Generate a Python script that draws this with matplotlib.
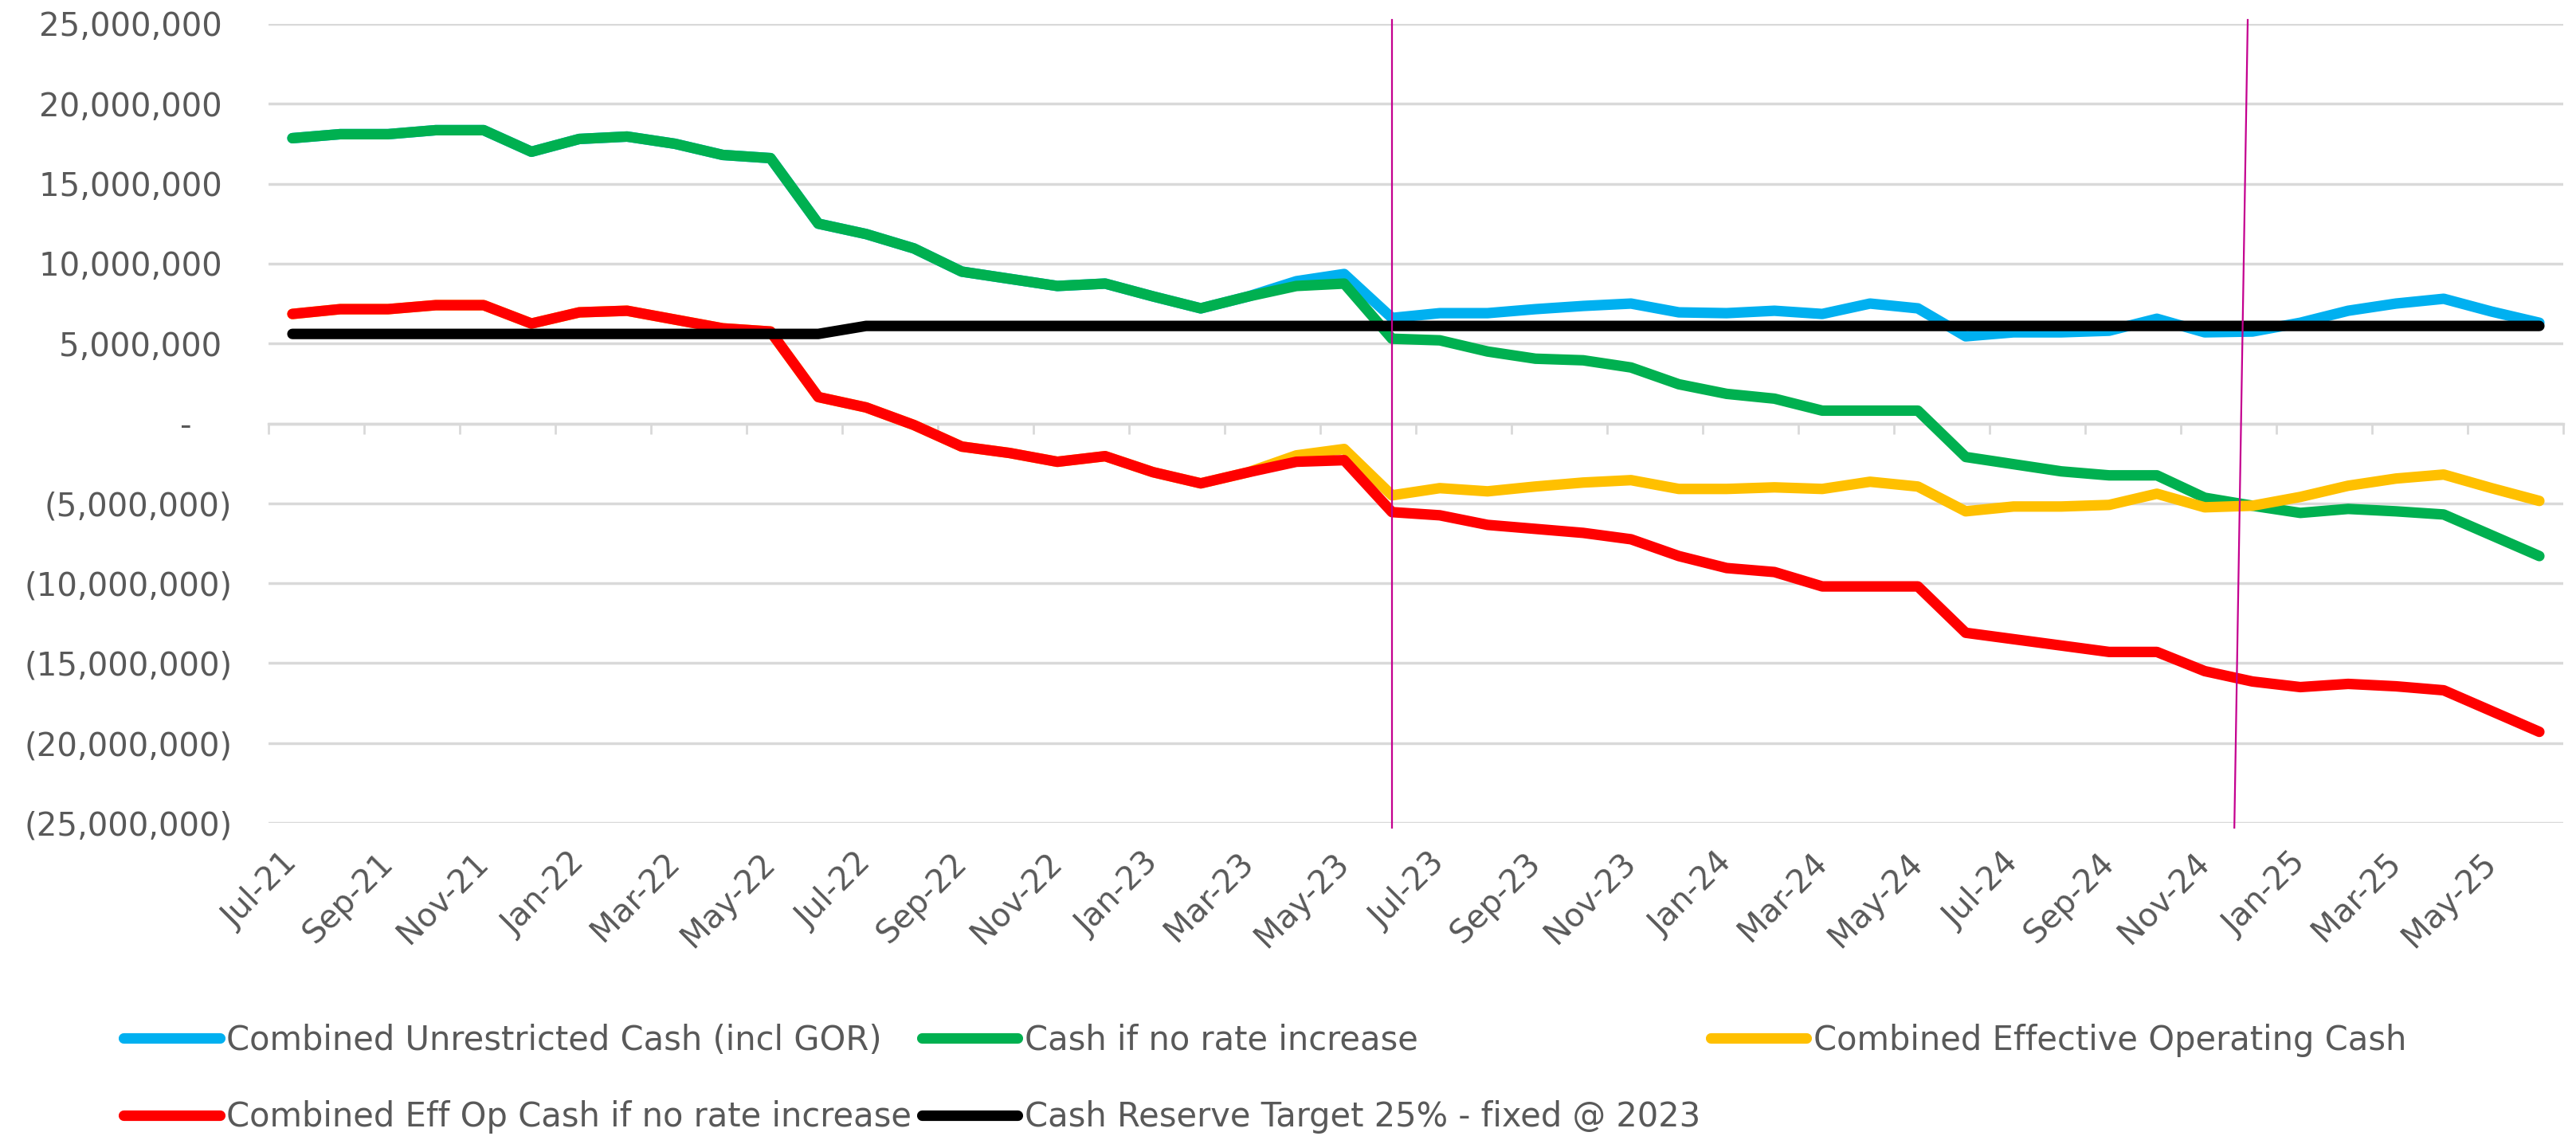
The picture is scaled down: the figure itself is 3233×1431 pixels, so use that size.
import numpy as np
import matplotlib
matplotlib.use("Agg")
import matplotlib.pyplot as plt
from matplotlib.ticker import FuncFormatter, FixedLocator

plt.rcParams['font.family'] = ['DejaVu Sans']

months = ["Jul-21", "Aug-21", "Sep-21", "Oct-21", "Nov-21", "Dec-21",
          "Jan-22", "Feb-22", "Mar-22", "Apr-22", "May-22", "Jun-22",
          "Jul-22", "Aug-22", "Sep-22", "Oct-22", "Nov-22", "Dec-22",
          "Jan-23", "Feb-23", "Mar-23", "Apr-23", "May-23", "Jun-23",
          "Jul-23", "Aug-23", "Sep-23", "Oct-23", "Nov-23", "Dec-23",
          "Jan-24", "Feb-24", "Mar-24", "Apr-24", "May-24", "Jun-24",
          "Jul-24", "Aug-24", "Sep-24", "Oct-24", "Nov-24", "Dec-24",
          "Jan-25", "Feb-25", "Mar-25", "Apr-25", "May-25", "Jun-25"]

# values in millions
unrestricted_cash = [17.85, 18.1, 18.1, 18.35, 18.35, 17.0, 17.8, 17.95, 17.5, 16.8, 16.6, 12.5,
                     11.85, 10.95, 9.5, 9.05, 8.6, 8.75, 7.95, 7.2, 7.95, 8.9, 9.35, 6.6,
                     6.9, 6.9, 7.15, 7.35, 7.5, 6.95, 6.9, 7.05, 6.85, 7.5, 7.2, 5.45,
                     5.7, 5.7, 5.8, 6.55, 5.7, 5.75, 6.3, 7.05, 7.5, 7.8, 7.0, 6.3]
cash_no_increase = [17.85, 18.1, 18.1, 18.35, 18.35, 17.0, 17.8, 17.95, 17.5, 16.8, 16.6, 12.5,
                    11.85, 10.95, 9.5, 9.05, 8.6, 8.75, 7.95, 7.2, 7.95, 8.6, 8.75, 5.3,
                    5.2, 4.5, 4.05, 3.95, 3.5, 2.45, 1.85, 1.55, 0.8, 0.8, 0.8, -2.1,
                    -2.55, -3.0, -3.25, -3.25, -4.65, -5.15, -5.6, -5.35, -5.5, -5.7, -7.0, -8.3]
effective_op_cash = [6.85, 7.15, 7.15, 7.4, 7.4, 6.25, 6.95, 7.05, 6.5, 5.95, 5.75, 1.65,
                     1.0, -0.1, -1.45, -1.85, -2.4, -2.05, -3.05, -3.75, -3.05, -2.0, -1.6, -4.5,
                     -4.05, -4.25, -3.95, -3.7, -3.55, -4.1, -4.1, -4.0, -4.1, -3.65, -3.95, -5.5,
                     -5.2, -5.2, -5.1, -4.4, -5.25, -5.15, -4.6, -3.9, -3.45, -3.2, -4.05, -4.85]
eff_op_no_increase = [6.85, 7.15, 7.15, 7.4, 7.4, 6.25, 6.95, 7.05, 6.5, 5.95, 5.75, 1.65,
                      1.0, -0.1, -1.45, -1.85, -2.4, -2.05, -3.05, -3.75, -3.05, -2.4, -2.3, -5.55,
                      -5.75, -6.35, -6.6, -6.85, -7.25, -8.3, -9.05, -9.3, -10.2, -10.2, -10.2, -13.1,
                      -13.5, -13.9, -14.3, -14.3, -15.5, -16.15, -16.5, -16.3, -16.45, -16.7, -18.0, -19.3]
reserve_target = [5.6, 5.6, 5.6, 5.6, 5.6, 5.6, 5.6, 5.6, 5.6, 5.6, 5.6, 5.6,
                  6.1, 6.1, 6.1, 6.1, 6.1, 6.1, 6.1, 6.1, 6.1, 6.1, 6.1, 6.1,
                  6.1, 6.1, 6.1, 6.1, 6.1, 6.1, 6.1, 6.1, 6.1, 6.1, 6.1, 6.1,
                  6.1, 6.1, 6.1, 6.1, 6.1, 6.1, 6.1, 6.1, 6.1, 6.1, 6.1, 6.1]

series_labels = ["Combined Unrestricted Cash (incl GOR)", "Cash if no rate increase",
                 "Combined Effective Operating Cash", "Combined Eff Op Cash if no rate increase",
                 "Cash Reserve Target 25% - fixed @ 2023"]
series_colors = ["#00B0F0", "#00B050", "#FFC000", "#FF0000", "#000000"]

# marker lines (category position, top/bottom)
marker1_x = (23.0, 23.0)
marker2_x = (40.9, 40.62)
marker_y = (25.25e6, -25.3e6)

TXT = "#595959"
GRID = "#D9D9D9"

fig = plt.figure(figsize=(32.33, 14.31), dpi=100)
ax = fig.add_axes([337 / 3233, 1 - 1033 / 1431, (3217 - 337) / 3233, (1033 - 30) / 1431])

x = np.arange(len(months))
all_series = [unrestricted_cash, cash_no_increase, effective_op_cash, eff_op_no_increase, reserve_target]
handles = []
for vals, lab, col in zip(all_series, series_labels, series_colors):
    h, = ax.plot(x, np.array(vals) * 1e6, color=col, lw=9.5, label=lab,
                 solid_capstyle='round', solid_joinstyle='round', zorder=3)
    handles.append(h)

ax.set_xlim(-0.5, len(months) - 0.5)
ax.set_ylim(-25e6, 25e6)
ax.set_yticks(np.arange(-25e6, 25e6 + 1, 5e6))


def fmt(v, pos):
    if abs(v) < 1:
        return "-    "
    if v < 0:
        return "({:,.0f})".format(-v)
    return "{:,.0f} ".format(v)


ax.yaxis.set_major_formatter(FuncFormatter(fmt))
ax.tick_params(axis='y', length=0, pad=33, labelsize=29, labelcolor=TXT)
ax.yaxis.grid(True, color=GRID, lw=2.5)
ax.set_axisbelow(True)

for s in ['top', 'right', 'left']:
    ax.spines[s].set_visible(False)
ax.spines['bottom'].set_position(('data', 0))
ax.spines['bottom'].set_color(GRID)
ax.spines['bottom'].set_linewidth(2.5)
ax.xaxis.set_major_locator(FixedLocator(np.arange(-0.5, len(months), 2)))
ax.tick_params(axis='x', direction='out', length=9.5, width=2, color=GRID, labelbottom=False)

sec = ax.secondary_xaxis('bottom')
sec.set_xticks(x[::2])
sec.set_xticklabels(months[::2], rotation=45, ha='right', va='center', rotation_mode='anchor')
sec.tick_params(length=0, pad=32, labelsize=29, labelcolor=TXT)
sec.spines['bottom'].set_visible(False)

for mx in (marker1_x, marker2_x):
    ax.plot(mx, marker_y, color='#C4008F', lw=1.6, clip_on=False, zorder=4)

order = [0, 3, 1, 4, 2]
leg = fig.legend([handles[i] for i in order], [series_labels[i] for i in order],
                 loc='upper left', bbox_to_anchor=(155 / 3233, 1 - 1285 / 1431),
                 ncol=3, frameon=False, fontsize=30, labelcolor=TXT,
                 handlelength=2.9, handletextpad=0.2, columnspacing=0.3,
                 labelspacing=1.3, borderpad=0, borderaxespad=0)

fig.savefig("out.png", dpi=100, facecolor='white')
